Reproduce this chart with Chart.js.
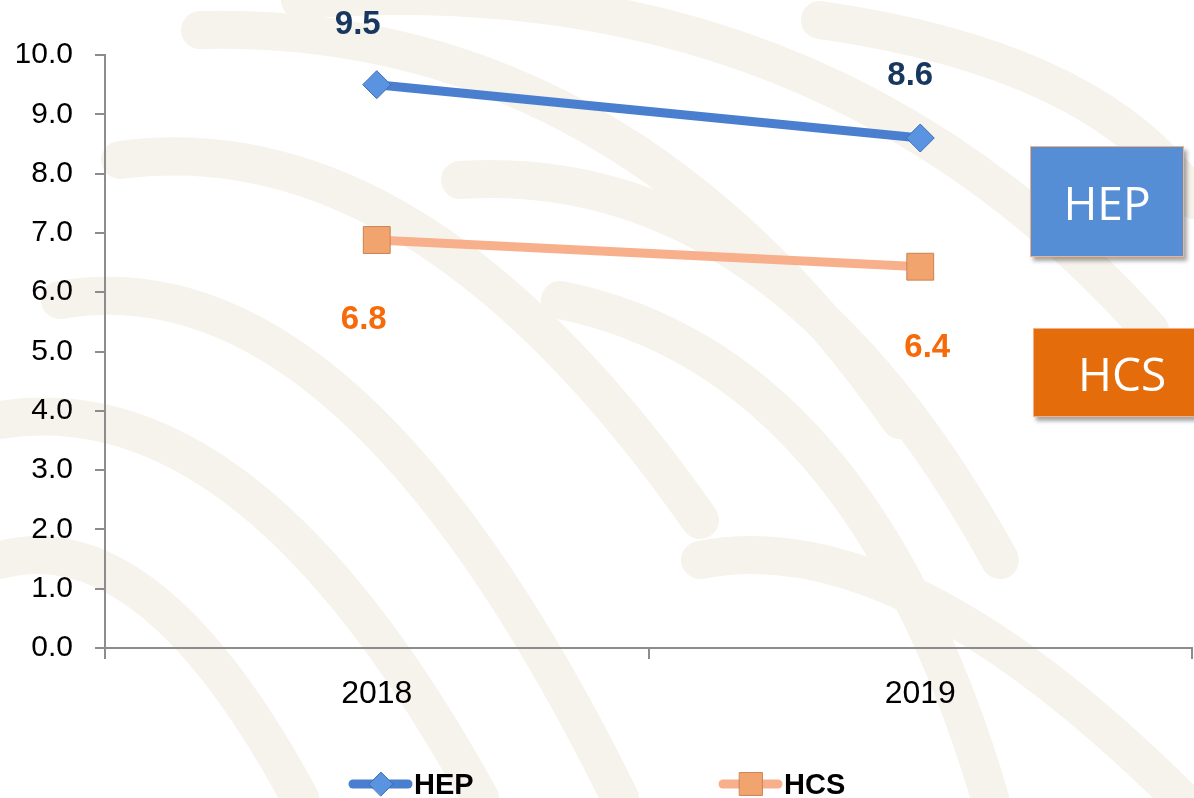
<!DOCTYPE html>
<html>
<head>
<meta charset="utf-8">
<script src="https://cdn.jsdelivr.net/npm/chart.js@4.4.0/dist/chart.umd.min.js"></script>
<style>
  html, body { margin: 0; padding: 0; background: #fff; }
  #wrap { position: relative; width: 1194px; height: 798px; overflow: hidden; }
  canvas { position: absolute; left: 0; top: 0; }
  .tag {
    position: absolute; color: #fff; font-family: "Open Sans", Arial, sans-serif;
    font-size: 46px; display: flex; align-items: center; justify-content: center;
    border: 1px solid #f4b183; box-shadow: 3px 4px 4px rgba(0,0,0,0.35);
  }
</style>
</head>
<body>
<div id="wrap">
  <canvas id="chart" width="1194" height="798"></canvas>
  <div class="tag" style="left:1030px; top:146px; width:152px; height:109px; background:#558ed5;">HEP</div>
  <div class="tag" style="left:1033px; top:328px; width:180px; height:89px; background:#e46c0a; justify-content:flex-start; padding-left:44px; box-sizing:border-box;">HCS</div>
</div>
<script>
// values
const years = ['2018', '2019'];
const hep = [9.5, 8.6];
const hcs = [6.88, 6.43];
const hepLabels = ['9.5', '8.6'];
const hcsLabels = ['6.8', '6.4'];

// faint beige watermark strokes behind the chart
const watermark = {
  id: 'watermark',
  beforeDraw(chart) {
    const ctx = chart.ctx;
    ctx.save();
    ctx.strokeStyle = '#f6f3ec';
    ctx.lineCap = 'round';
    ctx.lineWidth = 38;
    const curves = [
      [120, 160, 420, 120, 700, 520],
      [60, 300, 350, 250, 620, 798],
      [0, 420, 250, 380, 480, 798],
      [200, 30, 620, 20, 900, 420],
      [460, 180, 780, 160, 1000, 560],
      [300, 0, 820, -40, 1150, 330],
      [560, 300, 860, 360, 990, 798],
      [0, 560, 150, 520, 300, 798],
      [820, 20, 1100, 60, 1194, 200],
      [700, 560, 900, 520, 1180, 798]
    ];
    curves.forEach(c => {
      ctx.beginPath();
      ctx.moveTo(c[0], c[1]);
      ctx.quadraticCurveTo(c[2], c[3], c[4], c[5]);
      ctx.stroke();
    });
    ctx.restore();
  }
};

// value labels next to the markers (offsets per point, as placed in the original)
const valueLabels = {
  id: 'valueLabels',
  afterDatasetsDraw(chart) {
    const ctx = chart.ctx;
    ctx.save();
    ctx.font = 'bold 33px "Liberation Sans", Arial, sans-serif';
    ctx.textAlign = 'center';
    ctx.textBaseline = 'middle';
    const sets = [
      { meta: chart.getDatasetMeta(0), texts: hepLabels, color: '#17375e', dx: [-19, -10], dy: [-60, -62] },
      { meta: chart.getDatasetMeta(1), texts: hcsLabels, color: '#f76a0a', dx: [-13, 7], dy: [80, 81] }
    ];
    sets.forEach(s => {
      ctx.fillStyle = s.color;
      s.meta.data.forEach((pt, i) => {
        ctx.fillText(s.texts[i], pt.x + s.dx[i], pt.y + s.dy[i]);
      });
    });
    ctx.restore();
  }
};

// legend at the bottom: line + marker + bold name
const bottomLegend = {
  id: 'bottomLegend',
  afterDraw(chart) {
    const ctx = chart.ctx;
    const y = 784;
    const items = [{ ds: 0, x: 353 }, { ds: 1, x: 723 }];
    ctx.save();
    items.forEach(it => {
      const d = chart.data.datasets[it.ds];
      ctx.strokeStyle = d.borderColor;
      ctx.lineWidth = 9;
      ctx.lineCap = 'round';
      ctx.beginPath();
      ctx.moveTo(it.x, y);
      ctx.lineTo(it.x + 55, y);
      ctx.stroke();
      ctx.fillStyle = d.pointBackgroundColor;
      ctx.strokeStyle = d.pointBorderColor;
      ctx.lineWidth = 1;
      Chart.helpers.drawPoint(ctx, {
        pointStyle: d.pointStyle, radius: d.pointRadius * 0.85, borderWidth: 1
      }, it.x + 28, y);
      ctx.fillStyle = '#000';
      ctx.font = 'bold 29px "Liberation Sans", Arial, sans-serif';
      ctx.textAlign = 'left';
      ctx.textBaseline = 'middle';
      ctx.fillText(d.label, it.x + 61, y + 2);
    });
    ctx.restore();
  }
};

const family = '"Liberation Sans", Arial, sans-serif';

new Chart(document.getElementById('chart'), {
  type: 'line',
  data: {
    labels: years,
    datasets: [
      {
        label: 'HEP',
        data: hep,
        borderColor: '#4a7fd0',
        borderWidth: 9,
        pointStyle: 'rectRot',
        pointRadius: 14,
        pointBackgroundColor: '#5a93e0',
        pointBorderColor: '#3b6db5',
        pointBorderWidth: 1
      },
      {
        label: 'HCS',
        data: hcs,
        borderColor: '#f8b08c',
        borderWidth: 9,
        pointStyle: 'rect',
        pointRadius: 19,
        pointBackgroundColor: '#f2a46f',
        pointBorderColor: '#c98250',
        pointBorderWidth: 1
      }
    ]
  },
  options: {
    responsive: false,
    animation: false,
    layout: { autoPadding: false, padding: { left: 17, right: 2, top: 55, bottom: 86 } },
    plugins: { legend: { display: false }, tooltip: { enabled: false } },
    scales: {
      x: {
        offset: true,
        grid: { offset: true, drawOnChartArea: false, tickLength: 11, color: '#8c8c8c', lineWidth: 2 },
        border: { color: '#8c8c8c', width: 2 },
        ticks: { color: '#000', padding: 16, font: { size: 32, family } },
        afterFit(s) { s.height = 64; s.paddingLeft = 0; s.paddingRight = 0; }
      },
      y: {
        min: 0,
        max: 10,
        grid: { drawOnChartArea: false, tickLength: 10, color: '#8c8c8c', lineWidth: 2 },
        border: { color: '#8c8c8c', width: 2 },
        ticks: {
          stepSize: 1, color: '#000', padding: 22, font: { size: 30, family },
          callback: v => v.toFixed(1)
        },
        afterFit(s) { s.width = 88; s.paddingTop = 0; s.paddingBottom = 0; }
      }
    }
  },
  plugins: [watermark, valueLabels, bottomLegend]
});
</script>
</body>
</html>
